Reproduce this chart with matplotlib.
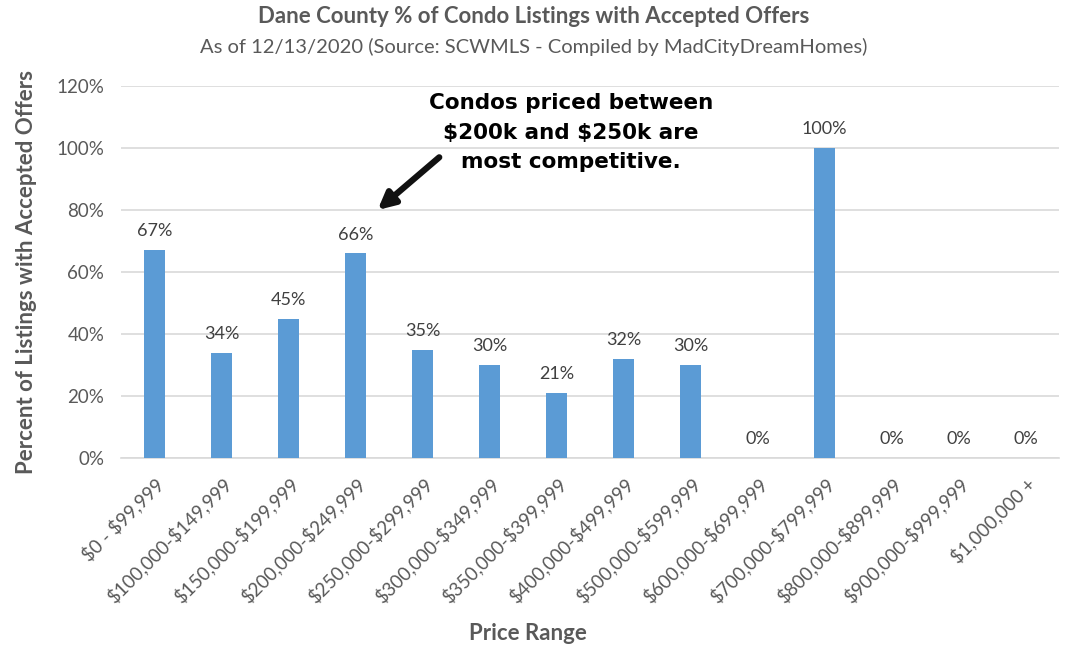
import matplotlib.pyplot as plt
from matplotlib.ticker import PercentFormatter

price_ranges = [
    "$0 - $99,999", "$100,000-$149,999", "$150,000-$199,999",
    "$200,000-$249,999", "$250,000-$299,999", "$300,000-$349,999",
    "$350,000-$399,999", "$400,000-$499,999", "$500,000-$599,999",
    "$600,000-$699,999", "$700,000-$799,999", "$800,000-$899,999",
    "$900,000-$999,999", "$1,000,000 +",
]
pct_accepted = [0.67, 0.34, 0.45, 0.66, 0.35, 0.30, 0.21, 0.32, 0.30,
                0.0, 1.00, 0.0, 0.0, 0.0]
y_ticks = [0.0, 0.2, 0.4, 0.6, 0.8, 1.0, 1.2]

GRAY = "#595959"
BLUE = "#5B9BD5"
plt.rcParams["font.family"] = ["Lato", "DejaVu Sans"]
plt.rcParams["text.parse_math"] = False

fig = plt.figure(figsize=(10.67, 6.6), dpi=100)
ax = fig.add_axes([0.1134, 0.306, 0.8791, 0.5637])

x = range(len(price_ranges))
bars = ax.bar(x, pct_accepted, width=0.3, color=BLUE, zorder=3)

for i, v in enumerate(pct_accepted):
    ax.text(i, v + 0.035, f"{v:.0%}", ha="center", va="bottom",
            fontsize=13, color="#404040")

ax.set_xlim(-0.5, len(price_ranges) - 0.5)
ax.set_ylim(0, 1.2)
ax.set_yticks(y_ticks)
ax.yaxis.set_major_formatter(PercentFormatter(1.0, decimals=0))
ax.grid(axis="y", color="#D9D9D9", linewidth=1.2, zorder=0)
for s in ["top", "right", "left"]:
    ax.spines[s].set_visible(False)
ax.spines["bottom"].set_color("#D9D9D9")
ax.spines["bottom"].set_linewidth(1.2)
ax.tick_params(axis="both", length=0, labelsize=13.5, colors=GRAY, pad=12)
ax.set_xticks(list(x))
ax.set_xticklabels(price_ranges, rotation=45, ha="right",
                   rotation_mode="anchor")
ax.tick_params(axis="x", pad=12)

ax.set_ylabel("Percent of Listings with Accepted Offers", fontsize=16,
              fontweight="bold", color=GRAY, labelpad=14)
fig.text(0.495, 0.03, "Price Range", ha="center", fontsize=16,
         fontweight="bold", color=GRAY)

fig.text(0.5, 0.975, "Dane County % of Condo Listings with Accepted Offers",
         ha="center", va="center", fontsize=16, fontweight="bold", color=GRAY)
fig.text(0.5, 0.929,
         "As of 12/13/2020 (Source: SCWMLS - Compiled by MadCityDreamHomes)",
         ha="center", va="center", fontsize=14.5, color=GRAY)

# callout
note_xy = (6.22, 1.05)
arrow_head = (3.33, 0.80)
arrow_tail = (4.25, 0.97)
ax.text(*note_xy,
        "Condos priced between\n$200k and $250k are\nmost competitive.",
        ha="center", va="center", fontsize=15.5, fontweight="heavy",
        family="DejaVu Sans", color="black", linespacing=1.6, zorder=5)
ax.annotate("", xy=arrow_head, xytext=arrow_tail,
            arrowprops=dict(arrowstyle="-|>,head_length=1.0,head_width=0.5",
                            color="#111111", lw=4.5, shrinkA=0, shrinkB=0),
            zorder=5)

fig.savefig("out.png", dpi=100)
